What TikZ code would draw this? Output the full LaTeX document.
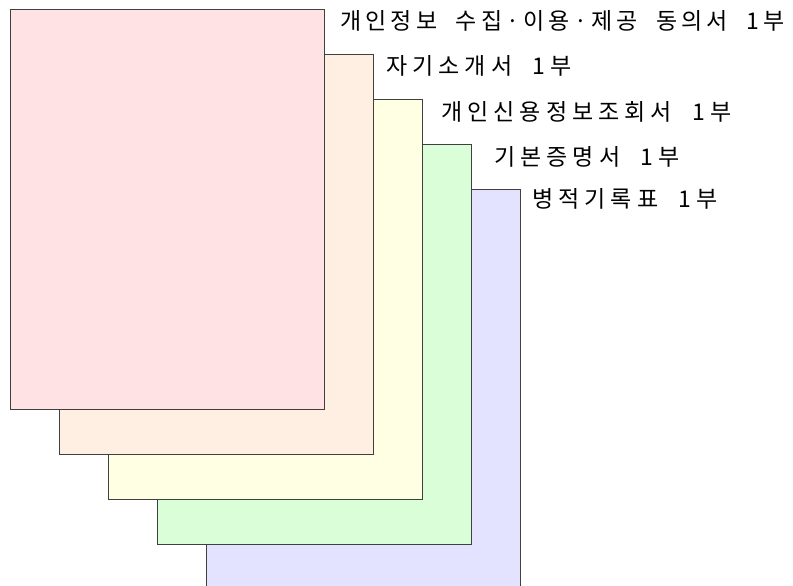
\documentclass[tikz,border=0pt]{standalone}
\usepackage{fontspec}
\newfontfamily\krfont[WordSpace=2.0, LetterSpace=22]{Noto Sans CJK KR}
\newfontfamily\krtight[WordSpace=2.0, LetterSpace=18]{Noto Sans CJK KR}
\usetikzlibrary{positioning}
\definecolor{sheetpink}{RGB}{255,226,228}
\definecolor{sheetpeach}{RGB}{255,238,226}
\definecolor{sheetyellow}{RGB}{255,255,228}
\definecolor{sheetgreen}{RGB}{218,255,216}
\definecolor{sheetblue}{RGB}{227,227,255}

\begin{document}
\begin{tikzpicture}[x=1pt,y=-1pt,
sheetnode/.style={rectangle, draw=black!75, line width=0.8pt, minimum width=314pt, minimum height=400pt, inner sep=0pt, outer sep=0pt},
titlenode/.style={inner sep=0pt, font=\krfont\fontsize{23}{23}\selectfont},
]
\useasboundingbox (0,0) rectangle (793,586);
%Sheets
\node[sheetnode, fill=sheetblue]   (S5) at (363,389) {};
\node[sheetnode, fill=sheetgreen]  (S4) at (314,344) {};
\node[sheetnode, fill=sheetyellow] (S3) at (265,299) {};
\node[sheetnode, fill=sheetpeach]  (S2) at (216,254) {};
\node[sheetnode, fill=sheetpink]   (S1) at (167,209) {};

%Titles
\node[titlenode, font=\krtight\fontsize{23}{23}\selectfont] (T1) [right=16pt of S1.north east, yshift=-12pt] {개인정보 수집·이용·제공 동의서 1부};
\node[titlenode] (T2) [right=13pt of S2.north east, yshift=-12pt] {자기소개서 1부};
\node[titlenode] (T3) [right=19pt of S3.north east, yshift=-13pt] {개인신용정보조회서 1부};
\node[titlenode] (T4) [right=23pt of S4.north east, yshift=-13pt] {기본증명서 1부};
\node[titlenode] (T5) [right=12pt of S5.north east, yshift=-10pt] {병적기록표 1부};
\end{tikzpicture}
\end{document}
